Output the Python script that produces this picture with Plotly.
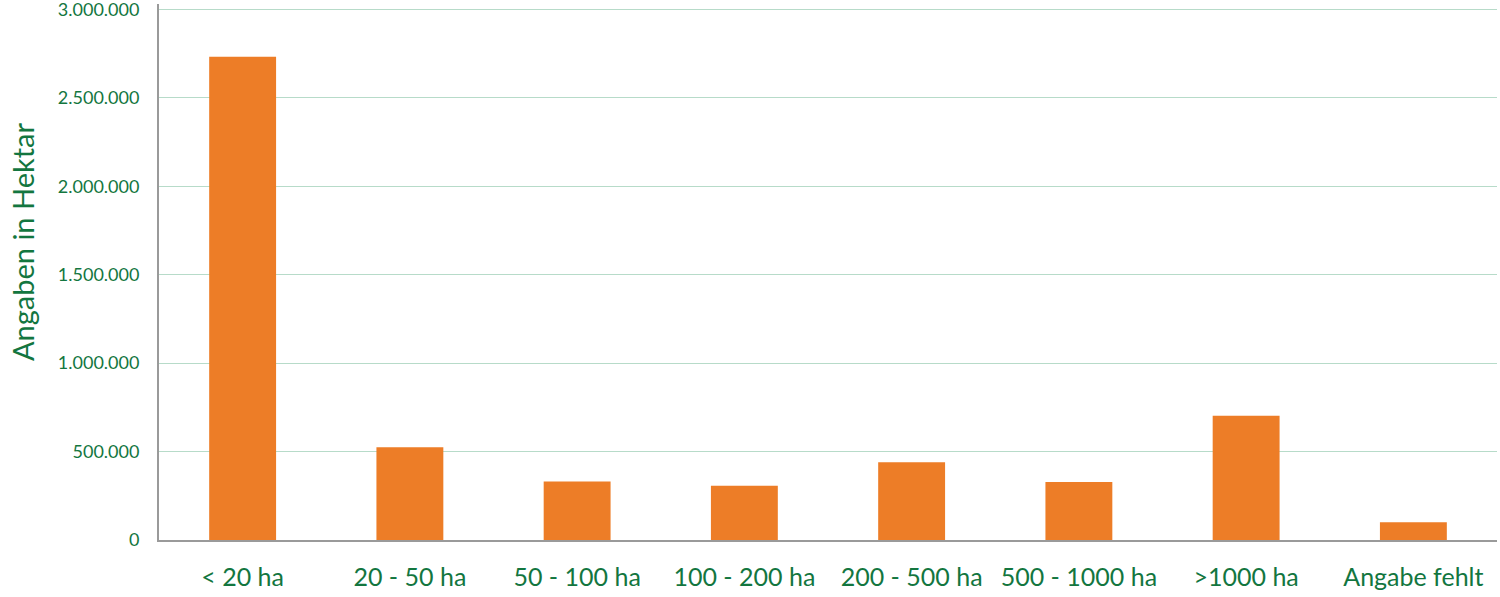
import plotly.graph_objects as go

categories = ["< 20 ha", "20 - 50 ha", "50 - 100 ha", "100 - 200 ha", "200 - 500 ha",
              "500 - 1000 ha", ">1000 ha", "Angabe fehlt"]
values = [2732000, 525000, 330000, 306000, 440000, 328000, 702000, 101000]
y_ticks = [0, 500000, 1000000, 1500000, 2000000, 2500000, 3000000]

GREEN = "#13763f"
ORANGE = "#ED7D27"

fig = go.Figure(go.Bar(x=categories, y=values, marker_color=ORANGE,
                       marker_line_width=0, width=0.4))

fig.update_layout(
    width=1500, height=597,
    margin=dict(l=159, r=3, t=4, b=57, autoexpand=False),
    plot_bgcolor="white", paper_bgcolor="white",
    separators=",.",
    showlegend=False,
    font=dict(family="Lato, Open Sans, sans-serif", color=GREEN),
)
fig.update_yaxes(range=[0, 3030000], tickvals=y_ticks, tickformat=",d",
                 automargin=False, ticklabeloverflow="allow",
                 showgrid=True, gridcolor="#b7dbc9", gridwidth=1,
                 showline=True, linecolor="#9a9a9a", linewidth=2,
                 zeroline=False, ticks="", ticklen=0, ticklabelstandoff=14,
                 tickfont=dict(size=18, color=GREEN))
fig.update_xaxes(showline=True, linecolor="#9a9a9a", linewidth=2, automargin=False,
                 tickfont=dict(size=25, color=GREEN), ticks="", ticklen=0, ticklabelstandoff=14)
fig.add_annotation(text="Angaben in Hektar", textangle=-90, showarrow=False,
                   xref="paper", yref="paper", x=0, y=0.5, xanchor="center", yanchor="middle",
                   xshift=-137, yshift=30, font=dict(size=29, color=GREEN))

fig.write_html("out.html", config={"displayModeBar": False},
               post_script="document.body.style.margin='0';")
